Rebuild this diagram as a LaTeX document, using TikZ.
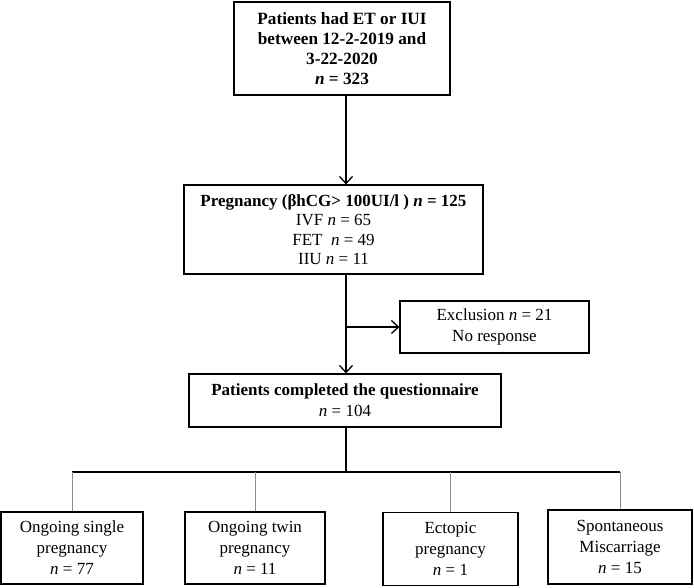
\documentclass[tikz,border=0pt]{standalone}
\usepackage{fontspec}
\setmainfont{Liberation Serif}
\usetikzlibrary{arrows.meta}
\begin{document}
\begin{tikzpicture}[x=1pt,y=-1pt,
  box/.style={draw=black, line width=1.2pt, rectangle, inner sep=0pt, align=center,
    font=\fontsize{17}{21}\selectfont},
  conn/.style={draw=black, line width=1.3pt},
  arr/.style={conn, -{Straight Barb[length=7pt,width=13pt,line width=1.3pt]}},
  thin/.style={draw=black!45, line width=0.9pt}]
\useasboundingbox (0,0) rectangle (694,587);
\node[box, minimum width=216, minimum height=93, font=\fontsize{17.2}{19.8}\selectfont] (top) at (342,48.5)
  {\textbf{Patients had ET or IUI}\\ \textbf{between 12-2-2019 and}\\ \textbf{3-22-2020}\\ \textbf{\textit{n} = 323}};
\node[box, minimum width=299, minimum height=89, font=\fontsize{17}{19.5}\selectfont] (preg) at (333.5,229.5)
  {\textbf{Pregnancy (βhCG> 100UI/l ) \textit{n} = 125}\\ IVF \textit{n} = 65\\ FET\ \ \textit{n} = 49\\ IIU \textit{n} = 11};
\node[box, minimum width=189, minimum height=52] (excl) at (494.5,327)
  {Exclusion \textit{n} = 21\\ No response};
\node[box, minimum width=312, minimum height=53] (comp) at (345,400.5)
  {\textbf{Patients completed the questionnaire}\\ \textit{n} = 104};
\node[box, minimum width=142, minimum height=72] (b1) at (72,548)
  {Ongoing single\\ pregnancy\\ \textit{n} = 77};
\node[box, minimum width=140, minimum height=72] (b2) at (255,548)
  {Ongoing twin\\ pregnancy\\ \textit{n} = 11};
\node[box, minimum width=135, minimum height=73] (b3) at (450.5,549)
  {Ectopic\\ pregnancy\\ \textit{n} = 1};
\node[box, minimum width=144, minimum height=74] (b4) at (620,547)
  {Spontaneous\\ Miscarriage\\ \textit{n} = 15};
\coordinate (spine) at (346,0);
\coordinate (bus) at (346,472);
\draw[arr] (top.south -| spine) -- (preg.north -| spine);
\draw[arr] (preg.south -| spine) -- (comp.north -| spine);
\draw[arr] (excl.west -| spine) -- (excl.west);
\draw[conn] (comp.south -| spine) -- (bus);
\draw[conn] (b1.north |- bus) -- (b4.north |- bus);
\draw[thin] (b1.north |- bus) -- (b1.north);
\draw[thin] (b2.north |- bus) -- (b2.north);
\draw[thin] (b3.north |- bus) -- (b3.north);
\draw[thin] (b4.north |- bus) -- (b4.north);
\end{tikzpicture}
\end{document}
